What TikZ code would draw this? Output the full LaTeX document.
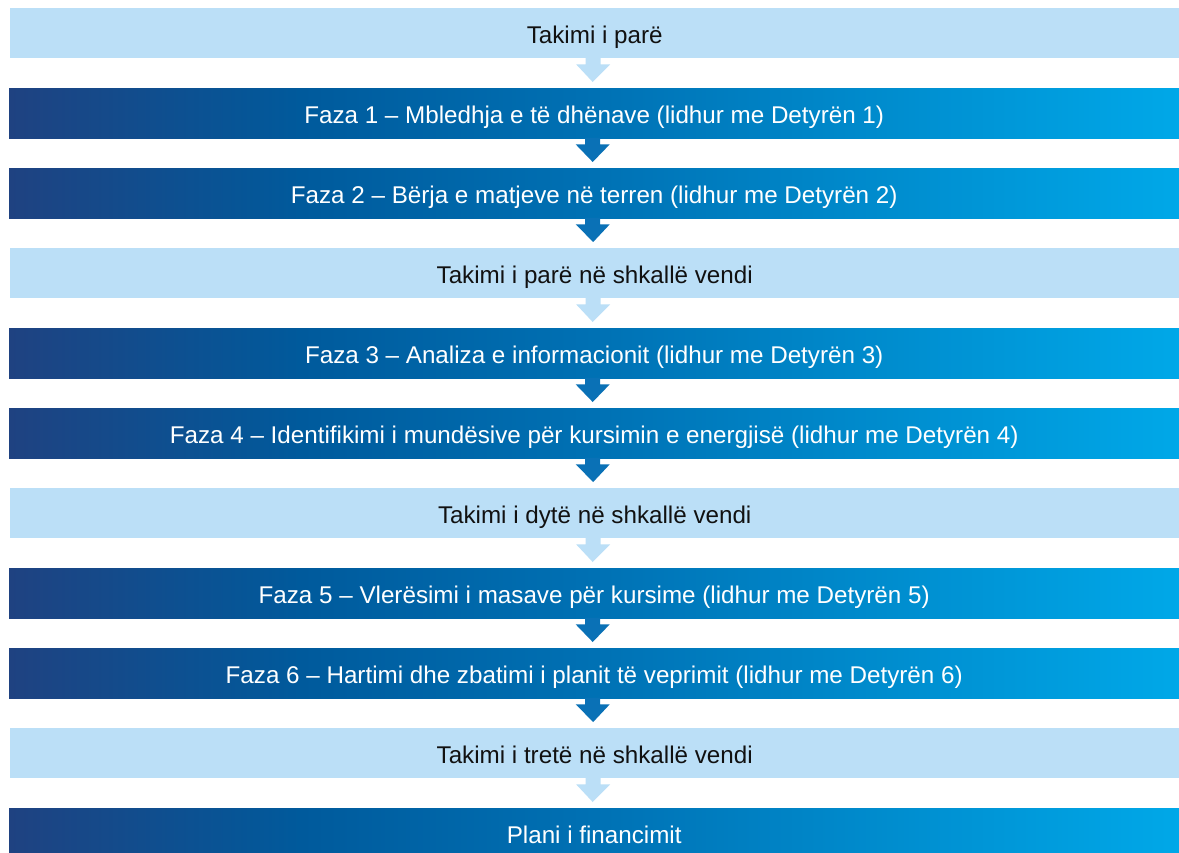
\documentclass[tikz,border=0pt]{standalone}
\usepackage{fontspec}
\setmainfont{Liberation Sans}
\usetikzlibrary{calc}
\definecolor{lightfill}{HTML}{BBDFF7}
\definecolor{gA}{HTML}{1F4281}
\definecolor{gB}{HTML}{005A9C}
\definecolor{gC}{HTML}{0071B4}
\definecolor{gD}{HTML}{00A8E8}
\definecolor{darkarrow}{HTML}{0A71B6}
\definecolor{lighttext}{HTML}{111111}
\pgfdeclarehorizontalshading{barshade}{100bp}{color(0bp)=(gA); color(25bp)=(gA); color(37.5bp)=(gB); color(50bp)=(gC); color(75bp)=(gD); color(100bp)=(gD)}
\newcommand\flowarr[3]{%
  \fill[#3] ($(#1.south)+(-9,-0.5)$) -- ($(#1.south)+(6,-0.5)$) -- ($(#1.south)+(6,6)$)
    -- ($(#1.south)+(15.5,6)$) -- ($(#2.north)+(-1.5,-6)$) -- ($(#1.south)+(-18.5,6)$)
    -- ($(#1.south)+(-9,6)$) -- cycle;}
\begin{document}
\begin{tikzpicture}[x=1pt,y=-1pt,
  barbase/.style={minimum height=50pt, inner sep=0pt, anchor=north west,
    text height=20pt, text depth=0pt,
    font=\fontsize{24.2}{28}\selectfont},
  lightbox/.style={barbase, minimum width=1169pt, fill=lightfill, text=lighttext},
  darkbox/.style={barbase, minimum width=1170pt, shading=barshade, text=white}]
\clip (0,0) rectangle (1179,853);
\fill[white] (0,0) rectangle (1179,853);
\node[lightbox] (b1) at (10,8) {Takimi i parë};
\node[darkbox] (b2) at (9,88) {Faza 1 – Mbledhja e të dhënave (lidhur me Detyrën 1)};
\node[darkbox] (b3) at (9,168) {Faza 2 – Bërja e matjeve në terren (lidhur me Detyrën 2)};
\node[lightbox] (b4) at (10,248) {Takimi i parë në shkallë vendi};
\node[darkbox] (b5) at (9,328) {Faza 3 – Analiza e informacionit (lidhur me Detyrën 3)};
\node[darkbox] (b6) at (9,408) {Faza 4 – Identifikimi i mundësive për kursimin e energjisë (lidhur me Detyrën 4)};
\node[lightbox] (b7) at (10,488) {Takimi i dytë në shkallë vendi};
\node[darkbox] (b8) at (9,568) {Faza 5 – Vlerësimi i masave për kursime (lidhur me Detyrën 5)};
\node[darkbox] (b9) at (9,648) {Faza 6 – Hartimi dhe zbatimi i planit të veprimit (lidhur me Detyrën 6)};
\node[lightbox] (b10) at (10,728) {Takimi i tretë në shkallë vendi};
\node[darkbox] (b11) at (9,808) {Plani i financimit};
\flowarr{b1}{b2}{lightfill}
\flowarr{b2}{b3}{darkarrow}
\flowarr{b3}{b4}{darkarrow}
\flowarr{b4}{b5}{lightfill}
\flowarr{b5}{b6}{darkarrow}
\flowarr{b6}{b7}{darkarrow}
\flowarr{b7}{b8}{lightfill}
\flowarr{b8}{b9}{darkarrow}
\flowarr{b9}{b10}{darkarrow}
\flowarr{b10}{b11}{lightfill}
\end{tikzpicture}
\end{document}
